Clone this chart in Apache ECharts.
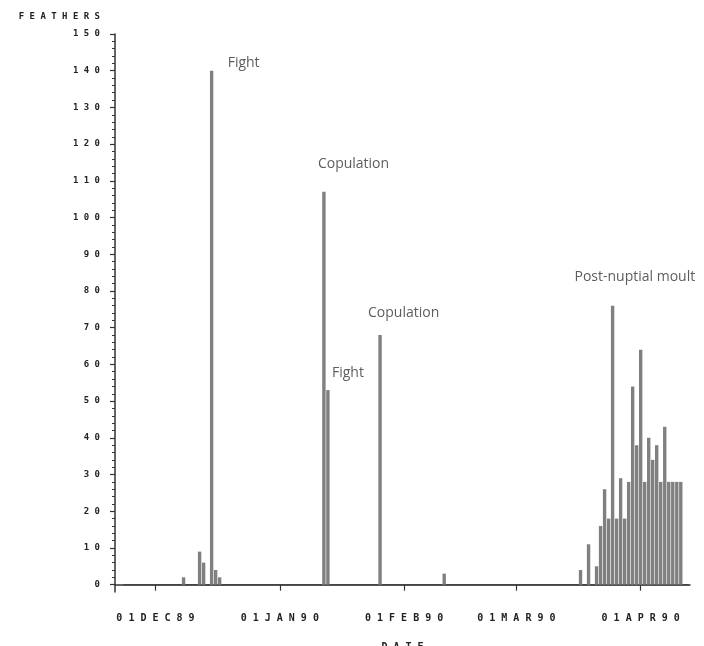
<!DOCTYPE html>
<html>
<head>
<meta charset="utf-8">
<script src="https://cdn.jsdelivr.net/npm/echarts@6/dist/echarts.min.js"></script>
<style>
html,body{margin:0;padding:0;background:#fff;}
#chart{width:704px;height:646px;}
</style>
</head>
<body>
<div id="chart"></div>
<script>
// ---- data ----
const barDates = ['1989-12-08','1989-12-12','1989-12-13','1989-12-15','1989-12-16','1989-12-17',
  '1990-01-12','1990-01-13','1990-01-26','1990-02-11',
  '1990-03-17','1990-03-19','1990-03-21','1990-03-22','1990-03-23','1990-03-24','1990-03-25',
  '1990-03-26','1990-03-27','1990-03-28','1990-03-29','1990-03-30','1990-03-31','1990-04-01',
  '1990-04-02','1990-04-03','1990-04-04','1990-04-05','1990-04-06','1990-04-07','1990-04-08',
  '1990-04-09','1990-04-10','1990-04-11'];
const feathers = [2,9,6,140,4,2,
  107,53,68,3,
  4,11,5,16,26,18,76,
  18,29,18,28,54,38,64,
  28,40,34,38,28,43,28,
  28,28,28];
const baselineDates = ['1989-11-23','1990-04-13'];
const xRange = ['1989-11-20 21:36','1990-04-13 07:12'];
const xTickDates = ['1989-12-01','1990-01-01','1990-02-01','1990-03-01','1990-04-01'];
const xTickLabels = ['01DEC89','01JAN90','01FEB90','01MAR90','01APR90'];
const yTicks = [0,10,20,30,40,50,60,70,80,90,100,110,120,130,140,150];
const yMinorTicks = [0,2,4,6,8,10,12,14,16,18,20,22,24,26,28,30,32,34,36,38,40,42,44,46,48,50,52,54,56,58,60,62,64,66,68,70,72,74,76,78,80,82,84,86,88,90,92,94,96,98,100,102,104,106,108,110,112,114,116,118,120,122,124,126,128,130,132,134,136,138,140,142,144,146,148,150];
const yRange = [-2,150];
const annotTexts = ['Fight','Copulation','Fight','Copulation','Post-nuptial moult'];
const annotDates = ['1989-12-19','1990-01-10 12:00','1990-01-14','1990-01-23','1990-03-15 12:00'];
const annotValues = [142,114.6,57.7,74,83.8];

// ---- helpers ----
function t(s){
  const m = s.match(/(\d+)-(\d+)-(\d+)(?:[ T](\d+):(\d+))?/);
  return Date.UTC(+m[1], +m[2]-1, +m[3], m[4]?+m[4]:0, m[5]?+m[5]:0);
}
function spaced(s){ return String(s).split('').join(' '); }
const xTickTs = xTickDates.map(t);

const chart = echarts.init(document.getElementById('chart'), null, {renderer:'canvas'});
const mono = 'DejaVu Sans Mono';
chart.setOption({
  animation:false,
  backgroundColor:'#fff',
  grid:{left:115, right:14, top:34, bottom:54, containLabel:false, outerBoundsMode:'none'},
  xAxis:{
    type:'value',
    min:t(xRange[0]), max:t(xRange[1]),
    name:spaced('DATE'), nameLocation:'middle', nameGap:50,
    nameTextStyle:{fontFamily:mono, fontSize:10, fontWeight:'bold', color:'#222'},
    axisLine:{lineStyle:{color:'#333', width:1.5}},
    axisTick:{show:true, length:6, lineStyle:{color:'#333', width:1.2}, customValues:xTickTs},
    axisLabel:{show:true, customValues:xTickTs, margin:21, fontFamily:mono, fontSize:10, fontWeight:'bold', color:'#222',
      formatter:function(v){ const i = xTickTs.indexOf(v); return i>=0 ? spaced(xTickLabels[i]) : ''; }},
    splitLine:{show:false}
  },
  yAxis:[{
    type:'value', min:yRange[0], max:yRange[1],
    name:spaced('FEATHERS'), nameLocation:'end', nameGap:17,
    nameTextStyle:{fontFamily:mono, fontSize:9, fontWeight:'bold', color:'#222', align:'right', verticalAlign:'middle', padding:[0,15,0,0]},
    axisLine:{show:true, lineStyle:{color:'#333', width:1.5}},
    axisTick:{show:true, length:5, lineStyle:{color:'#333', width:1.2}, customValues:yTicks},
    axisLabel:{show:true, customValues:yTicks, margin:15, fontFamily:mono, fontSize:9, fontWeight:'bold', color:'#222',
      formatter:function(v){ return spaced(v); }},
    splitLine:{show:false}
  },{
    type:'value', min:yRange[0], max:yRange[1], position:'left', offset:0,
    axisLine:{show:false},
    axisTick:{show:true, length:3, lineStyle:{color:'#333', width:1}, customValues:yMinorTicks},
    axisLabel:{show:false},
    splitLine:{show:false}
  }],
  series:[
    {
      type:'line', name:'baseline', yAxisIndex:0, symbol:'none',
      data:baselineDates.map(d=>[t(d),0]),
      lineStyle:{color:'#444', width:1.5}, silent:true, z:1
    },
    {
      type:'bar', name:'Feathers', yAxisIndex:0, barWidth:3.4,
      data:barDates.map((d,i)=>[t(d), feathers[i]]),
      itemStyle:{color:'#808080'}, z:2
    },
    {
      type:'scatter', name:'notes', yAxisIndex:0, symbolSize:0, silent:true,
      data:annotDates.map((d,i)=>[t(d), annotValues[i]]),
      label:{show:true, position:'inside', align:'left', verticalAlign:'middle',
        fontFamily:'Open Sans', fontSize:14, color:'#333',
        formatter:function(p){ return annotTexts[p.dataIndex]; }}
    }
  ]
});
</script>
</body>
</html>
